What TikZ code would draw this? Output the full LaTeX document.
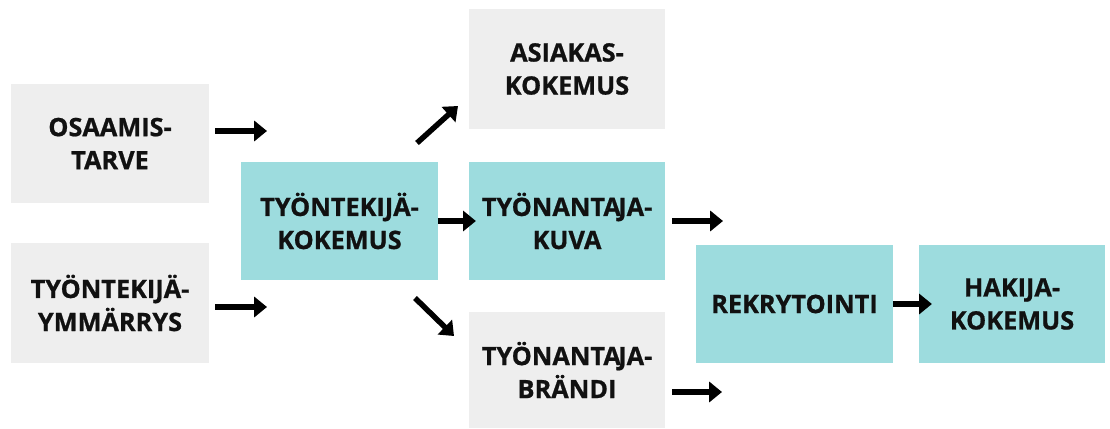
\documentclass[tikz,border=0pt]{standalone}
\usepackage{fontspec}
\setmainfont{Open Sans}[BoldFeatures={FakeBold=0.8}]
\usetikzlibrary{arrows.meta}
\definecolor{boxgray}{HTML}{EEEEEE}
\definecolor{boxteal}{HTML}{9DDCDE}
\definecolor{textblack}{HTML}{111111}

\begin{document}
\begin{tikzpicture}[x=0.025cm, y=-0.025cm,
    box/.style={inner sep=0pt, minimum width=4.9cm, minimum height=2.95cm, align=center,
        text=textblack, font=\fontsize{18}{23.5}\selectfont\bfseries},
    graybox/.style={box, fill=boxgray},
    tealbox/.style={box, fill=boxteal},
    arr/.style={line width=3.9pt, -{Triangle[length=0.32cm, width=0.5cm]}}]

                \useasboundingbox (0,0) rectangle (1110,428);
                % vasen sarake
                \node[graybox, minimum width=4.95cm] (osaamis) at (110,143.5) {OSAAMIS-\\TARVE};
                \node[graybox, minimum width=4.95cm, minimum height=3cm] (ymmarrys) at (110,303) {TYÖNTEKIJÄ-\\YMMÄRRYS};
                \node[tealbox] (kokemus) at (339.5,221) {TYÖNTEKIJÄ-\\KOKEMUS};
                % keskisarake
                \node[graybox, minimum height=3cm] (asiakas) at (567,69) {ASIAKAS-\\KOKEMUS};
                \node[tealbox] (kuva) at (567,221) {TYÖNANTA\kern-.1em JA-\\KUVA};
                \node[graybox, minimum height=2.9cm] (brandi) at (567,370) {TYÖNANTA\kern-.1em JA-\\BRÄNDI};
                % oikea puoli
                \node[tealbox] (rekry) at (794.5,304) {REKRYTOINTI};
                \node[tealbox, minimum width=4.65cm] (hakija) at (1012,304) {HAKIJA-\\KOKEMUS};

                % nuolten vapaat päät
                \coordinate (osaamisA) at (215,131);
                \coordinate (osaamisB) at (267,131);
                \coordinate (ymmarrysA) at (215,307);
                \coordinate (ymmarrysB) at (267,307);
                \coordinate (ylosA) at (417,143);
                \coordinate (ylosB) at (458,106);
                \coordinate (alasA) at (415,298);
                \coordinate (alasB) at (454,336);
                \coordinate (kuvaA) at (672,221);
                \coordinate (kuvaB) at (723,221);
                \coordinate (brandiA) at (672,392);
                \coordinate (brandiB) at (722,392);

                \draw[arr] (osaamisA) -- (osaamisB);
                \draw[arr] (ymmarrysA) -- (ymmarrysB);
                \draw[arr] (ylosA) -- (ylosB);
                \draw[arr] (alasA) -- (alasB);
                \draw[arr, shorten >=-0.18cm] (kokemus.east) -- (kuva.west);
                \draw[arr] (kuvaA) -- (kuvaB);
                \draw[arr] (brandiA) -- (brandiB);
                \draw[arr, shorten >=-0.33cm] (rekry.east) -- (hakija.west);
            \end{tikzpicture}
\end{document}
